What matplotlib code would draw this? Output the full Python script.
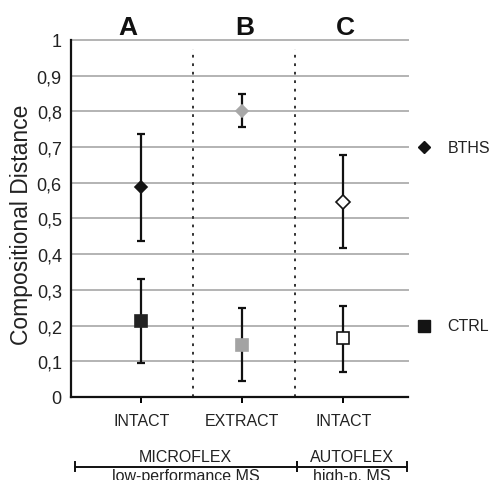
import numpy as np
import matplotlib
matplotlib.use("Agg")
import matplotlib.pyplot as plt
from matplotlib.ticker import FuncFormatter

plt.rcParams["font.family"] = ["Liberation Sans", "DejaVu Sans"]

# ── Data ───────────────────────────────────────────────────
panels     = ["A", "B", "C"]
categories = ["INTACT", "EXTRACT", "INTACT"]

bths_mean = [0.587, 0.802, 0.547]
bths_low  = [0.437, 0.756, 0.417]
bths_high = [0.737, 0.849, 0.678]

ctrl_mean = [0.212, 0.145, 0.164]
ctrl_low  = [0.095, 0.045, 0.070]
ctrl_high = [0.330, 0.249, 0.256]

instruments = ["MICROFLEX", "AUTOFLEX"]
instr_sub   = ["low-performance MS", "high-p. MS"]
instr_span  = [(-0.66, 1.54), (1.54, 2.63)]

yticks = [0, 0.1, 0.2, 0.3, 0.4, 0.5, 0.6, 0.7, 0.8, 0.9, 1.0]

# styles
bths_face = ["#141414", "#a8a8a8", "white"]
bths_edge = ["#141414", "#a8a8a8", "#141414"]
ctrl_face = ["#222222", "#a3a3a3", "white"]
ctrl_edge = ["#222222", "#a3a3a3", "#141414"]
txt = "#222222"

x = np.arange(len(categories))

fig = plt.figure(figsize=(4.92, 4.81), dpi=100)
ax = fig.add_axes([0.1453, 0.1726, 0.829 - 0.1453, 0.9148 - 0.1726])

# grid
for v in yticks[1:]:
    ax.axhline(v, color="#b3b3b3", linewidth=1.4, zorder=0, clip_on=False)

# separators between panels
for sep in [0.51, 1.52]:
    ax.plot([sep, sep], [0, 0.975], color="#222222", linewidth=1.3,
            linestyle=(0, (1.5, 3.2)), zorder=1)

# error bars
for i in range(len(x)):
    for m, lo, hi in [(bths_mean, bths_low, bths_high), (ctrl_mean, ctrl_low, ctrl_high)]:
        ax.errorbar(x[i], m[i], yerr=[[m[i] - lo[i]], [hi[i] - m[i]]], fmt="none",
                    ecolor="#111111", elinewidth=1.6, capsize=3.0, capthick=1.6, zorder=2)

# markers
for i in range(len(x)):
    ax.plot(x[i], bths_mean[i], marker="D", markersize=6.3 if i < 2 else 7.2,
            markerfacecolor=bths_face[i], markeredgecolor=bths_edge[i],
            markeredgewidth=1.2, linestyle="none", zorder=3)
    ax.plot(x[i], ctrl_mean[i], marker="s", markersize=8.2 if i < 2 else 8.8,
            markerfacecolor=ctrl_face[i], markeredgecolor=ctrl_edge[i],
            markeredgewidth=1.2, linestyle="none", zorder=3)

ax.set_xlim(-0.69, 2.64)
ax.set_ylim(0, 1)
ax.set_yticks(yticks)
ax.yaxis.set_major_formatter(FuncFormatter(
    lambda v, p: str(int(round(v))) if abs(v - round(v)) < 1e-9 else f"{v:.1f}".replace(".", ",")))
ax.set_xticks(x)
ax.set_xticklabels(categories)

for s in ["top", "right"]:
    ax.spines[s].set_visible(False)
ax.spines["left"].set_linewidth(1.6)
ax.spines["bottom"].set_linewidth(1.6)
ax.spines["left"].set_color("#111111")
ax.spines["bottom"].set_color("#111111")
ax.tick_params(axis="y", length=0, pad=7, labelsize=13, labelcolor=txt)
ax.tick_params(axis="x", direction="out", length=4.5, width=1.4, pad=7,
               labelsize=11.5, labelcolor=txt)

ax.set_ylabel("Compositional Distance", fontsize=16.5, color=txt)
ax.yaxis.set_label_coords(-0.113, 0.485)

# panel letters
for px, lab in zip([-0.128, 1.03, 2.02], panels):
    ax.text(px, 1.035, lab, transform=ax.get_xaxis_transform(), ha="center",
            va="center", fontsize=19, fontweight="bold", color="#111111")

# legend on the right
ax.plot(2.80, 0.7, marker="D", markersize=6.3, color="#141414", clip_on=False)
ax.text(3.03, 0.7, "BTHS", fontsize=11.5, va="center", color=txt)
ax.plot(2.80, 0.2, marker="s", markersize=8, color="#141414", clip_on=False)
ax.text(3.03, 0.2, "CTRL", fontsize=11.5, va="center", color=txt)

# instrument brackets
tr = ax.get_xaxis_transform()
yline = -0.195
for (a, b), name, sub in zip(instr_span, instruments, instr_sub):
    ax.plot([a, b], [yline, yline], color="#111111", linewidth=1.4,
            transform=tr, clip_on=False)
    for e in (a, b):
        ax.plot([e, e], [yline - 0.012, yline + 0.012], color="#111111",
                linewidth=1.4, transform=tr, clip_on=False)
    ax.text((a + b) / 2, yline + 0.006, name, transform=tr, ha="center",
            va="bottom", fontsize=11.5, color=txt)
    ax.text((a + b) / 2, yline - 0.005, sub, transform=tr, ha="center",
            va="top", fontsize=11.5, color=txt)

fig.savefig("out.png", dpi=100)
